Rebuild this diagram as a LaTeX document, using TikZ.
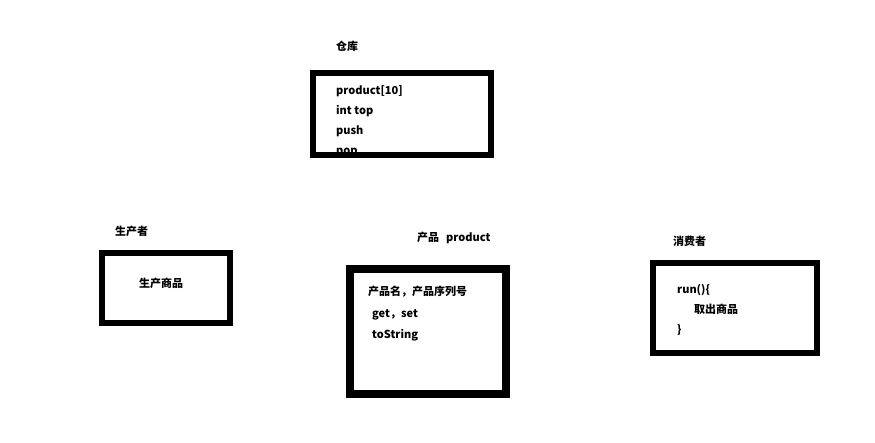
\documentclass[tikz,border=0pt]{standalone}
\usepackage{fontspec}
\setmainfont{Noto Sans CJK SC}
\usepackage{tikz}
\usetikzlibrary{positioning,calc}

\tikzset{
    box/.style={draw=black, line width=6pt, line join=miter},
    lbl/.style={anchor=base west, inner sep=0pt, font=\fontsize{11}{13}\selectfont\bfseries},
}

\begin{document}
\begin{tikzpicture}[x=1pt, y=-1pt]
            \useasboundingbox (0,0) rectangle (875,443);

            % warehouse
            \node[lbl] (storeTitle) at (336,51) {仓库};
            \begin{scope}
                \clip (310,70) rectangle (494,158);
                \node[lbl] (storeArr)  at (336,95)  {product[10]};
                \node[lbl] (storeTop)  at (336,115) {int top};
                \node[lbl] (storePush) at (336,135) {push};
                \node[lbl] (storePop)  at (336,155) {pop};
            \end{scope}
            \draw[box] (313,73) rectangle (491,155);

            % producer
            \node[lbl] (prodTitle) at (115,236) {生产者};
            \draw[box] (102,253) rectangle (230,323);
            \node[lbl] (prodMake) at (139,288) {生产商品};

            % product
            \node[lbl] (itemTitle) at (417,242) {产品\hspace{7pt}product};
            \draw[box, line width=8pt] (350,269) rectangle (506,394);
            \node[lbl] (itemName) at (368,296) {产品名，产品序列号};
            \node[lbl] (itemGet)  at (372,318) {get，set};
            \node[lbl] (itemStr)  at (372,339) {toString};

            % consumer
            \node[lbl] (consTitle) at (673,246) {消费者};
            \draw[box] (653,263) rectangle (817,353);
            \node[lbl] (consRun)  at (677,294) {run()\{};
            \node[lbl] (consTake) at (694,314) {取出商品};
            \node[lbl] (consEnd)  at (677,334) {\}};
        \end{tikzpicture}
\end{document}
